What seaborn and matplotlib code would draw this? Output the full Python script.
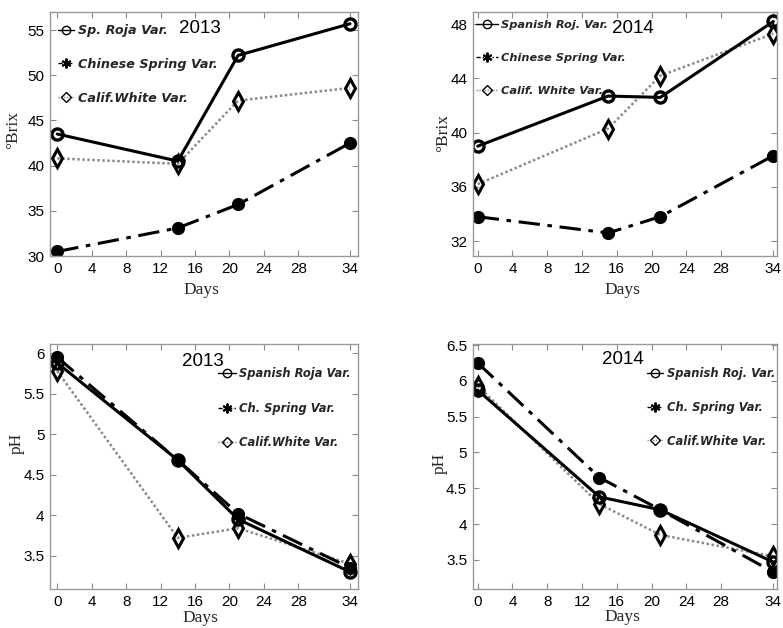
import matplotlib
matplotlib.use("Agg")
import matplotlib.pyplot as plt
import seaborn as sns
import pandas as pd
from matplotlib.lines import Line2D

sns.set_theme(style="ticks")
plt.rcParams['font.family'] = ['Liberation Sans', 'DejaVu Sans']

# ---------------- data ----------------
days_2013 = [0, 14, 21, 34]
days_2014_brix = [0, 15, 21, 34]
days_2014_ph = [0, 14, 21, 34]

brix13_roja = [43.5, 40.5, 52.2, 55.7]
brix13_chinese = [30.5, 33.1, 35.7, 42.5]
brix13_calif = [40.8, 40.2, 47.2, 48.6]

brix14_roja = [39.0, 42.7, 42.6, 48.2]
brix14_chinese = [33.8, 32.6, 33.8, 38.3]
brix14_calif = [36.2, 40.3, 44.2, 47.3]

ph13_roja = [5.88, 4.68, 3.95, 3.30]
ph13_chinese = [5.95, 4.68, 4.02, 3.35]
ph13_calif = [5.78, 3.72, 3.84, 3.40]

ph14_roja = [5.87, 4.38, 4.20, 3.47]
ph14_chinese = [6.25, 4.65, 4.20, 3.33]
ph14_calif = [5.93, 4.28, 3.85, 3.55]

xticks = [0, 4, 8, 12, 16, 20, 24, 28, 34]

legend_13a = ["Sp. Roja Var.", "Chinese Spring Var.", "Calif.White Var."]
legend_14a = ["Spanish Roj. Var.", "Chinese Spring Var.", "Calif. White Var."]
legend_13b = ["Spanish Roja Var.", "Ch. Spring Var.", "Calif.White Var."]
legend_14b = ["Spanish Roj. Var.", "Ch. Spring Var.", "Calif.White Var."]

# ---------------- styles ----------------
ROJA = dict(color='black', linestyle='-', lw=2.2, marker='o', ms=8,
            mfc='none', mec='black', mew=2.4)
CHIN = dict(color='black', linestyle=(0, (7, 2.5, 1.5, 2.5)), lw=2.2,
            marker='o', ms=8, mfc='black', mec='black', mew=1.5)
CALI = dict(color='#8a8a8a', linestyle=(0, (1, 1)), lw=1.8, marker='d',
            ms=9, mfc='none', mec='black', mew=2.2)

fig = plt.figure(figsize=(7.83, 6.28), dpi=100)

W, H = 783.0, 628.0
def axes_px(left, top, right, bottom):
    return fig.add_axes([left / W, (H - bottom) / H, (right - left) / W, (bottom - top) / H])

ax1 = axes_px(50, 12, 358, 256)
ax2 = axes_px(472.7, 12, 776.7, 256)
ax3 = axes_px(50, 344, 358, 589.3)
ax4 = axes_px(472.7, 344, 776.7, 589.3)


def draw(ax, days, roja, chin, cali):
    df = pd.DataFrame({'day': days, 'roja': roja, 'chin': chin, 'cali': cali})
    sns.lineplot(data=df, x='day', y='cali', ax=ax, **CALI)
    sns.lineplot(data=df, x='day', y='chin', ax=ax, **CHIN)
    sns.lineplot(data=df, x='day', y='roja', ax=ax, **ROJA)


def style(ax, xlim, ylim, yticks, ylabel, ylab_xy, xlab_xy, year, year_xy,
          labels, leg_xy, handlelength, legsize, spacing):
    ax.set_xlim(*xlim)
    ax.set_ylim(*ylim)
    ax.set_xticks(xticks)
    ax.set_yticks(yticks)
    ax.set_yticklabels([('%g' % v) for v in yticks])
    ax.tick_params(direction='in', top=True, right=True, length=4, width=0.8,
                   color='#8a8a8a', labelsize=11, pad=4, labelcolor='black')
    for s in ax.spines.values():
        s.set_color('#9a9a9a')
        s.set_linewidth(1.0)
    ax.set_xlabel('Days', fontfamily='Liberation Serif', fontsize=12.5, va='center')
    ax.set_ylabel(ylabel, fontfamily='Liberation Serif', fontsize=12.5, va='center')
    ax.xaxis.set_label_coords(*xlab_xy)
    ax.yaxis.set_label_coords(*ylab_xy)
    ax.text(year_xy[0], year_xy[1], year, transform=ax.transAxes, ha='center',
            va='center', fontsize=13.5, color='black')
    handles = [
        Line2D([], [], color='black', lw=1.0, linestyle='-', marker='o', ms=6,
               mfc='none', mec='black', mew=1.0),
        Line2D([], [], color='black', lw=1.0, linestyle=(0, (3, 1.5, 1, 1.5)),
               marker=(6, 2, 0), ms=7, mfc='black', mec='black', mew=1.4),
        Line2D([], [], color='#8a8a8a', lw=1.0, linestyle=(0, (1, 1)), marker='D',
               ms=5, mfc='none', mec='black', mew=1.0),
    ]
    ax.legend(handles, labels, loc='upper left', bbox_to_anchor=leg_xy,
              frameon=False, borderpad=0, borderaxespad=0,
              labelspacing=spacing, handlelength=handlelength, handletextpad=0.3,
              prop={'family': 'DejaVu Sans', 'weight': 'bold',
                    'style': 'oblique', 'size': legsize})


draw(ax1, days_2013, brix13_roja, brix13_chinese, brix13_calif)
style(ax1, (-0.85, 34.93), (30, 57), [30, 35, 40, 45, 50, 55], '°Brix',
      (-0.121, 0.516), (0.49, -0.139), '2013', (0.487, 0.934),
      legend_13a, (0.025, 0.95), 1.3, 9.2, 1.62)

draw(ax2, days_2014_brix, brix14_roja, brix14_chinese, brix14_calif)
style(ax2, (-0.575, 34.39), (30.9, 48.9), [32, 36, 40, 44, 48], '°Brix',
      (-0.097, 0.504), (0.494, -0.139), '2014', (0.528, 0.934),
      legend_14a, (0.012, 0.966), 1.9, 8.2, 2.0)

draw(ax3, days_2013, ph13_roja, ph13_chinese, ph13_calif)
style(ax3, (-0.85, 34.93), (3.085, 6.115), [3.5, 4, 4.5, 5, 5.5, 6], 'pH',
      (-0.107, 0.596), (0.487, -0.118), '2013', (0.497, 0.928),
      legend_13b, (0.545, 0.905), 1.55, 8.3, 1.87)

draw(ax4, days_2014_ph, ph14_roja, ph14_chinese, ph14_calif)
style(ax4, (-0.575, 34.39), (3.09, 6.514), [3.5, 4, 4.5, 5, 5.5, 6, 6.5], 'pH',
      (-0.108, 0.515), (0.494, -0.112), '2014', (0.494, 0.935),
      legend_14b, (0.572, 0.908), 1.45, 8.3, 1.82)

fig.savefig('out.png', dpi=100, facecolor='white')
